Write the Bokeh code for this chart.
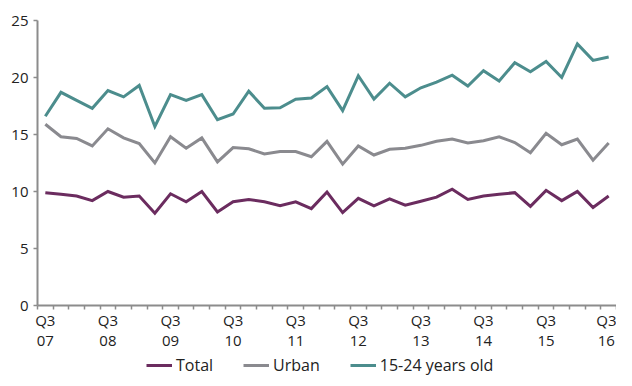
from bokeh.plotting import figure
from bokeh.layouts import column
from bokeh.models import Range1d, FixedTicker, Legend, LegendItem
from bokeh.embed import file_html
from bokeh.resources import INLINE

# Quarterly data, Q3 2007 .. Q3 2016
quarters = []
for yr in range(2007, 2017):
    for q in (1, 2, 3, 4):
        if (yr == 2007 and q < 3) or (yr == 2016 and q > 3):
            continue
        quarters.append(f"Q{q} {str(yr)[2:]}")

total = [9.9, 9.75, 9.6, 9.2, 10.0, 9.5, 9.6, 8.1, 9.8, 9.1,
         10.0, 8.2, 9.1, 9.3, 9.1, 8.75, 9.1, 8.5, 9.95, 8.15,
         9.4, 8.75, 9.35, 8.8, 9.15, 9.5, 10.2, 9.3, 9.6, 9.75,
         9.9, 8.7, 10.1, 9.2, 10.0, 8.6, 9.6]
urban = [15.9, 14.8, 14.65, 14.0, 15.5, 14.7, 14.2, 12.5, 14.8, 13.8,
         14.7, 12.6, 13.85, 13.75, 13.3, 13.5, 13.5, 13.05, 14.4, 12.4,
         14.0, 13.2, 13.7, 13.8, 14.05, 14.4, 14.6, 14.25, 14.45, 14.8,
         14.3, 13.4, 15.1, 14.1, 14.6, 12.75, 14.25]
youth = [16.6, 18.7, 18.0, 17.3, 18.85, 18.3, 19.3, 15.7, 18.5, 18.0,
         18.5, 16.3, 16.8, 18.8, 17.3, 17.35, 18.1, 18.2, 19.2, 17.1,
         20.15, 18.1, 19.5, 18.3, 19.1, 19.6, 20.2, 19.25, 20.6, 19.7,
         21.3, 20.5, 21.4, 20.0, 22.95, 21.5, 21.8]

series_names = ["Total", "Urban", "15-24 years old"]
series_colors = ["#6B2C5F", "#8A8A8F", "#4C8D8D"]
y_ticks = [0, 5, 10, 15, 20, 25]

x = list(range(len(quarters)))
label_idx = [i for i, q in enumerate(quarters) if q.startswith("Q3")]
label_text = {i: quarters[i].replace(" ", "\n") for i in label_idx}

FONT = "Open Sans"
AXIS_COLOR = "#8C8C8C"

p = figure(width=616, height=352, output_backend="svg", toolbar_location=None,
           x_range=Range1d(-0.5, len(quarters) - 0.5), y_range=Range1d(0, 25),
           min_border_left=37, min_border_right=0, min_border_top=20,
           min_border_bottom=0)
p.outline_line_color = None
p.grid.grid_line_color = None

series = [total, urban, youth]
for data, color in zip(series, series_colors):
    p.line(x, data, line_color=color, line_width=3, line_join="miter")

# x axis
xa = p.xaxis[0]
xa.axis_label = None
xa.ticker = FixedTicker(ticks=label_idx,
                        minor_ticks=[i - 0.5 for i in range(len(quarters) + 1)])
xa.major_label_overrides = label_text
xa.major_tick_out = 0
xa.major_tick_in = 0
xa.minor_tick_out = 4
xa.minor_tick_in = 0
xa.minor_tick_line_color = AXIS_COLOR
xa.minor_tick_line_width = 1.5
xa.axis_line_color = AXIS_COLOR
xa.axis_line_width = 2
xa.major_label_standoff = 0
xa.major_label_text_font = FONT
xa.major_label_text_font_size = "15px"
xa.major_label_text_line_height = 1.0
xa.major_label_text_color = "#222222"

# y axis
ya = p.yaxis[0]
ya.axis_label = None
ya.ticker = FixedTicker(ticks=y_ticks)
ya.major_tick_out = 4
ya.major_tick_in = 0
ya.minor_tick_out = 0
ya.minor_tick_in = 0
ya.major_tick_line_color = AXIS_COLOR
ya.major_tick_line_width = 1.5
ya.axis_line_color = AXIS_COLOR
ya.axis_line_width = 2
ya.major_label_standoff = 5
ya.major_label_text_font = FONT
ya.major_label_text_font_size = "15px"
ya.major_label_text_color = "#222222"

# legend strip below the chart (its lines lie outside its own ranges)
leg = figure(width=616, height=24, output_backend="svg", toolbar_location=None,
             x_range=Range1d(-0.5, len(quarters) - 0.5), y_range=Range1d(-2, -1),
             min_border_left=37, min_border_right=0, min_border_top=0,
             min_border_bottom=0)
leg.axis.visible = False
leg.grid.visible = False
leg.outline_line_color = None
leg_renderers = [leg.line(x, data, line_color=c, line_width=3)
                 for data, c in zip(series, series_colors)]

legend = Legend(items=[LegendItem(label=n, renderers=[r])
                       for n, r in zip(series_names, leg_renderers)],
                orientation="horizontal", location=(109, 0),
                border_line_color=None, background_fill_alpha=0,
                padding=0, margin=0, spacing=30, glyph_width=26,
                glyph_height=16, label_standoff=4, label_height=16,
                label_text_font=FONT, label_text_font_size="16px",
                label_text_color="#222222")
leg.add_layout(legend, "center")

layout = column(p, leg, spacing=0)
open("out.html", "w").write(file_html(layout, INLINE))
